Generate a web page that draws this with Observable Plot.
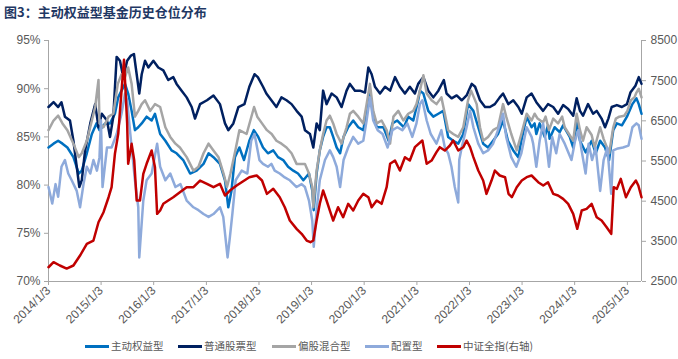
<!DOCTYPE html>
<html><head><meta charset="utf-8">
<script src="https://cdn.jsdelivr.net/npm/d3@7"></script>
<script src="https://cdn.jsdelivr.net/npm/@observablehq/plot@0.6"></script>
<style>
body{margin:0;background:#fff;width:678px;height:359px;overflow:hidden;position:relative;}
#title{height:25px;box-sizing:border-box;padding:4px 0 0 4px;font:bold 13px/16px "Noto Sans CJK SC";color:#1f3864;white-space:nowrap;}
#chart{height:305px;}
#legend{position:relative;height:29px;font:10.5px/14px "Noto Sans CJK SC";color:#595959;}
.item{position:absolute;top:9px;display:flex;align-items:center;white-space:nowrap;}
.sw{width:24px;height:3px;margin-right:2px;}
</style></head>
<body>
<div id="title">图3：主动权益型基金历史仓位分布</div>
<div id="chart"></div>
<div id="legend"></div>
<script>
const seriesNames = ["主动权益型","普通股票型","偏股混合型","配置型","中证全指(右轴)"];
const seriesColors = ["#0070c0","#002060","#a5a5a5","#8eaadb","#c00000"];
const legendLefts = [85,178,272,365,437];
const leftTicks = [70,75,80,85,90,95];
const rightTicks = [2500,3500,4500,5500,6500,7500,8500];
const tickYears = [2014,2015,2016,2017,2018,2019,2020,2021,2022,2023,2024,2025];

const activeEquity = [["2014-01-03",83.9],["2014-02-07",84.3],["2014-03-11",84.6],["2014-04-10",84.3],["2014-05-14",83.9],["2014-06-25",82.9],["2014-08-01",81.2],["2014-08-22",81.5],["2014-09-26",83.3],["2014-10-31",85.3],["2014-12-02",86.4],["2014-12-23",85.7],["2015-02-01",86.4],["2015-03-06",86.4],["2015-04-09",87.4],["2015-05-02",89.1],["2015-05-25",89.8],["2015-06-18",90.5],["2015-07-10",89.5],["2015-08-03",87.7],["2015-08-26",85.7],["2015-09-18",86.0],["2015-10-12",86.4],["2015-11-15",87.1],["2015-12-20",86.7],["2016-01-12",87.4],["2016-02-17",85.3],["2016-03-24",84.6],["2016-05-06",83.6],["2016-06-10",83.3],["2016-07-26",82.6],["2016-09-12",81.2],["2016-10-27",81.5],["2016-12-14",82.2],["2017-01-18",83.3],["2017-02-21",82.9],["2017-04-07",82.2],["2017-05-12",80.5],["2017-06-04",77.7],["2017-06-26",79.4],["2017-07-20",82.9],["2017-08-20",83.9],["2017-09-21",82.6],["2017-10-28",84.6],["2017-11-28",85.7],["2017-12-29",85.0],["2018-01-31",83.9],["2018-03-06",83.3],["2018-04-12",83.6],["2018-05-15",82.9],["2018-06-20",82.6],["2018-07-24",81.9],["2018-08-29",81.5],["2018-10-01",81.2],["2018-11-07",80.5],["2018-12-16",81.2],["2019-01-08",79.4],["2019-01-18",77.4],["2019-02-07",81.2],["2019-03-01",83.6],["2019-03-24",85.0],["2019-04-17",86.0],["2019-05-10",86.0],["2019-06-02",85.0],["2019-06-26",83.9],["2019-07-20",83.3],["2019-08-13",85.0],["2019-09-14",86.0],["2019-10-19",86.7],["2019-11-23",86.0],["2019-12-28",85.7],["2020-01-20",87.7],["2020-02-12",89.5],["2020-03-06",87.4],["2020-03-30",86.0],["2020-05-16",86.0],["2020-06-21",84.6],["2020-07-17",86.4],["2020-08-20",86.7],["2020-10-05",86.0],["2020-11-04",87.1],["2020-12-09",86.7],["2021-01-12",88.8],["2021-01-24",89.8],["2021-02-17",89.5],["2021-03-23",87.7],["2021-04-27",87.1],["2021-06-01",87.4],["2021-07-05",87.7],["2021-08-08",85.0],["2021-09-12",84.6],["2021-10-17",84.3],["2021-11-21",85.3],["2021-12-24",88.4],["2022-01-30",87.7],["2022-03-05",86.0],["2022-04-08",84.3],["2022-05-12",83.9],["2022-06-16",84.6],["2022-07-20",85.3],["2022-08-24",86.7],["2022-09-27",84.6],["2022-11-03",83.6],["2022-12-08",82.9],["2022-12-29",84.6],["2023-02-04",87.1],["2023-03-10",86.0],["2023-03-31",86.4],["2023-04-12",85.3],["2023-05-05",86.4],["2023-06-09",85.0],["2023-07-02",86.2],["2023-07-13",84.8],["2023-08-17",86.0],["2023-09-21",85.5],["2023-10-15",86.2],["2023-11-30",85.0],["2023-12-24",83.9],["2024-01-17",86.5],["2024-02-09",84.6],["2024-03-19",83.4],["2024-04-30",84.6],["2024-05-28",83.3],["2024-06-28",84.6],["2024-08-01",83.9],["2024-08-29",82.6],["2024-09-27",85.7],["2024-10-22",86.4],["2024-11-26",86.2],["2024-12-31",87.1],["2025-02-07",88.4],["2025-03-07",89.0],["2025-03-23",88.4],["2025-04-11",87.4]];

const commonStock = [["2014-01-03",88.1],["2014-02-07",88.6],["2014-03-11",88.1],["2014-04-03",88.6],["2014-04-27",87.1],["2014-06-01",86.7],["2014-06-25",84.6],["2014-07-18",81.9],["2014-08-05",79.8],["2014-08-22",80.5],["2014-09-14",83.6],["2014-10-20",86.4],["2014-11-23",88.4],["2014-12-16",86.0],["2015-01-08",87.4],["2015-02-13",86.7],["2015-03-06",85.0],["2015-03-29",87.1],["2015-04-21",93.3],["2015-05-14",92.9],["2015-06-06",91.2],["2015-07-03",92.9],["2015-07-27",93.4],["2015-08-19",93.6],["2015-09-07",91.5],["2015-09-25",89.5],["2015-10-12",91.5],["2015-11-04",92.9],["2015-11-27",92.2],["2016-01-01",92.9],["2016-02-04",92.2],["2016-03-10",91.9],["2016-04-13",90.9],["2016-05-18",91.2],["2016-06-10",90.5],["2016-07-15",89.8],["2016-08-19",89.1],["2016-09-23",88.1],["2016-10-16",86.9],["2016-11-20",88.4],["2017-01-07",88.8],["2017-02-21",89.3],["2017-04-07",88.4],["2017-05-12",86.4],["2017-06-04",85.7],["2017-07-09",86.4],["2017-08-13",88.1],["2017-09-24",88.4],["2017-10-28",90.2],["2017-12-03",91.5],["2017-12-26",91.2],["2018-01-31",90.2],["2018-02-23",89.5],["2018-03-30",88.8],["2018-05-04",88.1],["2018-06-08",89.1],["2018-07-13",88.8],["2018-08-17",88.4],["2018-09-21",87.7],["2018-10-26",87.1],["2018-11-18",85.7],["2018-12-23",85.3],["2019-01-15",83.9],["2019-02-07",86.4],["2019-03-01",85.7],["2019-03-24",89.8],["2019-04-17",88.4],["2019-05-22",89.5],["2019-06-26",89.1],["2019-07-30",88.1],["2019-09-03",89.8],["2019-09-26",90.5],["2019-10-31",89.8],["2019-12-05",89.8],["2020-01-09",89.6],["2020-02-01",92.2],["2020-02-24",91.5],["2020-03-18",90.2],["2020-04-22",89.5],["2020-05-27",90.2],["2020-07-01",89.8],["2020-08-04",91.2],["2020-09-07",90.2],["2020-10-12",89.5],["2020-11-15",90.2],["2020-12-20",89.5],["2021-01-12",90.5],["2021-02-17",91.2],["2021-03-23",89.8],["2021-04-27",89.1],["2021-06-01",89.8],["2021-07-09",90.9],["2021-07-28",89.5],["2021-09-01",89.0],["2021-10-06",89.3],["2021-11-10",88.8],["2021-12-14",89.3],["2022-01-19",90.5],["2022-02-11",90.2],["2022-03-17",88.8],["2022-04-21",88.1],["2022-05-25",88.1],["2022-06-28",88.4],["2022-08-01",89.1],["2022-08-24",89.5],["2022-09-30",88.4],["2022-11-03",88.8],["2022-12-08",88.1],["2023-01-01",87.4],["2023-02-04",89.1],["2023-03-10",89.5],["2023-04-12",88.6],["2023-05-29",87.7],["2023-07-02",88.4],["2023-08-07",88.1],["2023-09-10",87.4],["2023-10-15",88.3],["2023-11-19",87.9],["2023-12-24",87.2],["2024-01-17",89.0],["2024-02-09",87.7],["2024-03-01",87.2],["2024-04-05",88.4],["2024-05-10",87.4],["2024-06-04",87.7],["2024-07-08",86.9],["2024-08-01",86.0],["2024-08-24",86.9],["2024-09-16",88.1],["2024-10-22",88.3],["2024-11-26",88.1],["2024-12-31",88.4],["2025-01-24",89.6],["2025-02-28",90.3],["2025-03-23",91.2],["2025-04-11",90.5]];

const mixedEquity = [["2014-01-03",85.7],["2014-02-07",86.7],["2014-03-11",87.2],["2014-04-10",86.4],["2014-05-14",85.7],["2014-06-25",84.3],["2014-08-01",82.9],["2014-08-22",83.3],["2014-09-26",84.6],["2014-10-31",86.7],["2014-11-23",88.1],["2014-12-16",90.9],["2014-12-23",86.4],["2015-01-20",86.0],["2015-02-24",87.1],["2015-03-29",87.4],["2015-04-29",90.5],["2015-05-25",91.5],["2015-06-18",91.2],["2015-07-10",92.2],["2015-08-03",90.5],["2015-08-26",87.1],["2015-09-18",87.7],["2015-10-12",88.4],["2015-11-04",88.8],["2015-12-10",87.7],["2016-01-12",88.4],["2016-02-17",88.1],["2016-03-24",86.0],["2016-04-27",85.0],["2016-06-02",84.3],["2016-07-03",83.9],["2016-08-19",82.9],["2016-10-05",81.5],["2016-11-09",81.9],["2016-12-14",83.3],["2017-01-18",84.3],["2017-02-21",83.6],["2017-03-28",82.9],["2017-05-02",81.2],["2017-05-26",79.8],["2017-06-19",81.2],["2017-07-23",83.6],["2017-08-20",85.7],["2017-10-09",85.3],["2017-11-30",88.1],["2017-12-22",87.1],["2018-01-24",86.4],["2018-02-27",85.7],["2018-04-01",85.3],["2018-05-04",84.6],["2018-06-08",84.3],["2018-07-13",83.9],["2018-08-17",83.3],["2018-09-21",82.2],["2018-11-18",82.2],["2018-12-16",81.2],["2019-01-08",79.8],["2019-01-15",77.7],["2019-02-07",81.5],["2019-03-01",83.6],["2019-03-24",85.3],["2019-04-17",86.7],["2019-05-10",87.2],["2019-06-02",86.4],["2019-06-26",85.3],["2019-07-30",84.3],["2019-09-03",86.0],["2019-09-26",87.4],["2019-10-19",87.7],["2019-11-23",87.1],["2019-12-28",86.4],["2020-01-20",88.4],["2020-02-12",90.5],["2020-03-06",87.7],["2020-03-30",86.4],["2020-05-03",86.7],["2020-06-07",85.7],["2020-07-01",84.3],["2020-07-24",87.1],["2020-08-27",87.7],["2020-10-01",86.7],["2020-11-04",87.4],["2020-12-09",87.7],["2020-12-31",88.4],["2021-01-24",89.8],["2021-02-17",91.4],["2021-03-12",89.5],["2021-04-15",88.8],["2021-05-19",88.4],["2021-06-22",89.1],["2021-07-16",87.4],["2021-08-08",85.7],["2021-09-12",85.3],["2021-10-17",85.0],["2021-11-21",86.0],["2021-12-24",88.8],["2022-01-14",89.8],["2022-02-22",88.4],["2022-03-17",86.0],["2022-04-08",84.6],["2022-05-12",85.0],["2022-06-16",85.7],["2022-07-20",86.0],["2022-08-24",88.4],["2022-09-15",87.1],["2022-10-20",85.3],["2022-11-27",83.6],["2022-12-29",85.3],["2023-02-04",87.4],["2023-03-10",86.7],["2023-03-31",87.4],["2023-04-21",86.9],["2023-05-29",86.5],["2023-06-15",87.1],["2023-07-09",85.7],["2023-08-07",86.9],["2023-09-10",86.4],["2023-10-08",87.1],["2023-10-26",86.0],["2023-12-24",84.6],["2024-01-17",87.4],["2024-02-09",85.7],["2024-03-01",84.6],["2024-03-26",86.0],["2024-04-30",85.2],["2024-05-21",83.9],["2024-06-28",86.0],["2024-07-22",84.8],["2024-08-30",83.3],["2024-09-27",86.0],["2024-10-15",86.9],["2024-11-08",87.1],["2024-12-12",87.2],["2025-01-03",87.7],["2025-01-27",88.8],["2025-02-21",89.1],["2025-03-07",89.6],["2025-03-23",90.0],["2025-04-11",89.1]];

const allocation = [["2014-01-03",79.8],["2014-01-29",78.1],["2014-02-21",80.1],["2014-03-11",78.8],["2014-04-03",81.9],["2014-04-27",82.6],["2014-05-20",81.2],["2014-06-13",80.5],["2014-07-18",79.4],["2014-08-10",77.7],["2014-09-03",80.1],["2014-09-26",81.9],["2014-10-20",81.2],["2014-11-11",82.6],["2014-12-05",81.5],["2014-12-23",82.9],["2015-01-02",86.7],["2015-01-13",79.8],["2015-02-13",83.9],["2015-03-17",83.9],["2015-04-21",85.3],["2015-05-25",87.4],["2015-06-18",89.5],["2015-07-03",88.8],["2015-07-25",85.3],["2015-08-26",80.5],["2015-09-18",77.7],["2015-09-25",72.5],["2015-10-23",78.4],["2015-11-15",80.5],["2015-12-20",81.2],["2016-01-27",84.3],["2016-02-17",81.9],["2016-03-24",80.5],["2016-04-27",81.2],["2016-06-02",79.8],["2016-07-07",80.1],["2016-08-19",78.4],["2016-10-05",77.7],["2016-11-09",77.4],["2016-12-14",77.0],["2017-01-18",76.7],["2017-02-21",77.0],["2017-04-07",77.7],["2017-04-30",76.7],["2017-05-30",72.5],["2017-06-15",74.6],["2017-07-02",77.0],["2017-07-25",80.5],["2017-09-05",81.5],["2017-10-14",81.2],["2017-11-10",84.6],["2017-12-03",85.3],["2018-01-06",82.6],["2018-01-31",82.2],["2018-03-06",81.9],["2018-03-30",82.2],["2018-04-22",81.5],["2018-05-27",81.2],["2018-07-01",80.8],["2018-08-05",80.5],["2018-09-21",79.8],["2018-10-26",80.1],["2018-11-18",79.8],["2018-12-16",78.4],["2019-01-08",76.3],["2019-01-18",73.6],["2019-02-07",77.4],["2019-03-01",80.5],["2019-04-06",82.6],["2019-05-10",83.6],["2019-06-02",82.9],["2019-06-26",81.9],["2019-07-20",79.8],["2019-08-13",82.6],["2019-09-14",83.9],["2019-10-19",85.0],["2019-11-23",84.3],["2019-12-28",84.6],["2020-01-20",86.7],["2020-02-12",89.1],["2020-03-06",86.7],["2020-04-06",85.7],["2020-05-10",85.3],["2020-06-14",83.9],["2020-07-17",85.7],["2020-08-20",86.0],["2020-09-24",85.7],["2020-10-29",86.4],["2020-12-02",85.0],["2020-12-31",86.4],["2021-01-24",88.4],["2021-02-10",88.8],["2021-03-12",86.7],["2021-04-09",85.3],["2021-05-19",84.3],["2021-06-22",85.7],["2021-07-16",83.9],["2021-08-08",83.3],["2021-08-31",81.9],["2021-09-23",79.8],["2021-10-17",78.2],["2021-10-24",82.6],["2021-11-10",83.9],["2021-12-14",86.0],["2022-01-07",87.7],["2022-01-30",86.0],["2022-03-05",84.3],["2022-04-08",83.3],["2022-05-12",83.6],["2022-06-16",84.3],["2022-07-20",85.7],["2022-08-24",87.4],["2022-09-15",85.0],["2022-10-20",82.9],["2022-11-24",81.9],["2022-12-29",83.3],["2023-02-04",86.0],["2023-03-10",85.0],["2023-03-21",84.3],["2023-04-12",81.9],["2023-05-05",84.6],["2023-05-29",86.4],["2023-06-20",84.3],["2023-07-09",81.9],["2023-07-31",85.0],["2023-08-28",83.3],["2023-09-21",85.3],["2023-10-26",84.3],["2023-12-12",82.6],["2024-01-06",84.6],["2024-01-29",85.7],["2024-02-20",83.6],["2024-03-19",81.2],["2024-04-09",84.3],["2024-05-03",82.6],["2024-05-28",83.9],["2024-06-28",79.4],["2024-07-22",82.6],["2024-08-17",83.9],["2024-09-13",79.1],["2024-09-27",83.6],["2024-10-29",83.8],["2024-12-03",83.9],["2025-01-11",84.1],["2025-02-07",86.0],["2025-03-07",86.4],["2025-03-23",86.2],["2025-04-11",84.8]];

const csiAll = [["2014-01-03",2855],["2014-02-07",2980],["2014-03-23",2898],["2014-05-09",2823],["2014-06-25",2898],["2014-08-10",3147],["2014-09-26",3437],["2014-11-11",3520],["2014-12-16",3976],["2015-01-20",4225],["2015-02-24",4598],["2015-03-17",4847],["2015-04-09",5679],["2015-05-02",6176],["2015-05-25",7255],["2015-06-11",8020],["2015-07-03",6426],["2015-07-10",5430],["2015-08-03",5927],["2015-08-21",5512],["2015-09-07",4516],["2015-09-30",4516],["2015-10-23",5181],["2015-11-15",5430],["2015-12-20",5761],["2016-01-12",5346],["2016-01-27",4185],["2016-02-17",4267],["2016-03-10",4434],["2016-04-13",4516],["2016-05-18",4598],["2016-07-03",4723],["2016-08-19",4847],["2016-10-05",4847],["2016-11-20",5014],["2017-01-07",4931],["2017-02-21",4847],["2017-04-07",4931],["2017-05-12",4641],["2017-06-15",4765],["2017-08-01",4889],["2017-10-28",5097],["2017-12-18",5139],["2018-01-24",5014],["2018-02-27",4682],["2018-04-12",4807],["2018-05-27",4598],["2018-07-01",4349],["2018-08-05",4018],["2018-09-21",3811],["2018-10-26",3686],["2018-11-30",3520],["2018-12-26",3478],["2019-01-15",3520],["2019-02-07",4018],["2019-03-01",4434],["2019-03-24",4765],["2019-04-17",4516],["2019-05-10",4267],["2019-06-02",4018],["2019-07-06",4349],["2019-08-10",4100],["2019-09-14",4434],["2019-10-19",4267],["2019-11-23",4516],["2019-12-28",4682],["2020-02-01",4598],["2020-02-24",4349],["2020-03-30",4516],["2020-05-03",4434],["2020-06-07",4847],["2020-07-01",5430],["2020-08-04",5512],["2020-09-07",5263],["2020-10-12",5595],["2020-11-15",5512],["2020-12-20",5844],["2021-02-10",6010],["2021-03-12",5430],["2021-04-15",5512],["2021-05-19",5720],["2021-06-11",5844],["2021-07-16",5761],["2021-08-20",5886],["2021-09-12",6010],["2021-10-17",5761],["2021-11-21",5844],["2021-12-14",6010],["2022-01-07",5844],["2022-01-30",5595],["2022-03-05",5263],["2022-04-08",5014],["2022-05-01",4682],["2022-06-05",5014],["2022-06-28",5263],["2022-08-01",5139],["2022-09-07",5097],["2022-10-01",4682],["2022-10-24",4598],["2022-11-27",4847],["2023-01-01",5014],["2023-02-04",5097],["2023-03-10",5139],["2023-04-25",4972],["2023-05-30",4889],["2023-07-02",4972],["2023-08-07",4682],["2023-09-10",4641],["2023-10-15",4558],["2023-11-19",4434],["2023-12-24",4185],["2024-01-21",3811],["2024-02-21",4267],["2024-03-26",4308],["2024-04-30",4434],["2024-06-04",4100],["2024-07-08",4018],["2024-08-12",3852],["2024-09-13",3686],["2024-09-30",4847],["2024-10-22",4807],["2024-11-18",5056],["2024-12-24",4598],["2025-01-27",4847],["2025-03-03",5014],["2025-03-20",4889],["2025-04-11",4598]];

// right axis (index) mapped onto left axis (%) scale
const R0 = 2500, R1 = 8500, L0 = 70, L1 = 95;
const toLeft = v => L0 + (v - R0) / (R1 - R0) * (L1 - L0);
const fromLeft = p => R0 + (p - L0) / (L1 - L0) * (R1 - R0);

const rows = (arr, f = v => v) => arr.map(([d, v]) => ({date: new Date(d), v: f(v)}));
const seriesData = [rows(activeEquity), rows(commonStock), rows(mixedEquity), rows(allocation), rows(csiAll, toLeft)];

const axisGray = "#a6a6a6", textGray = "#595959";
const chart = Plot.plot({
  width: 678, height: 305,
  marginLeft: 48, marginRight: 37, marginTop: 15, marginBottom: 49,
  style: {fontFamily: "Liberation Sans, Arial, sans-serif", fontSize: "12px", color: textGray, background: "#fff"},
  x: {type: "utc", domain: [new Date("2014-01-03"), new Date("2025-04-11")], label: null},
  y: {domain: [L0, L1], label: null},
  marks: [
    Plot.ruleY([L0], {stroke: axisGray}),
    Plot.ruleX([new Date("2014-01-03")], {stroke: axisGray}),
    Plot.ruleX([new Date("2025-04-11")], {stroke: axisGray}),
    Plot.axisY({anchor: "left", ticks: leftTicks, tickFormat: d => d + "%", tickSize: 4, tickPadding: 4, stroke: axisGray, fill: textGray, label: null}),
    Plot.axisY({anchor: "right", ticks: rightTicks.map(toLeft), tickFormat: d => String(Math.round(fromLeft(d))), tickSize: 4, tickPadding: 5, stroke: axisGray, fill: textGray, label: null}),
    Plot.axisX({ticks: tickYears.map(y => new Date(Date.UTC(y, 0, 3))), tickFormat: d => `${d.getUTCFullYear()}/1/3`, tickRotate: -45, tickSize: 4, tickPadding: 3, stroke: axisGray, fill: textGray, label: null}),
    ...seriesData.map((data, i) => Plot.line(data, {x: "date", y: "v", stroke: seriesColors[i], strokeWidth: 2.5, strokeLinejoin: "round"}))
  ]
});
document.getElementById("chart").appendChild(chart);

const legend = document.getElementById("legend");
seriesNames.forEach((name, i) => {
  const it = document.createElement("div");
  it.className = "item";
  it.style.left = legendLefts[i] + "px";
  it.innerHTML = `<span class="sw" style="background:${seriesColors[i]}"></span><span>${name}</span>`;
  legend.appendChild(it);
});
</script>
</body></html>
